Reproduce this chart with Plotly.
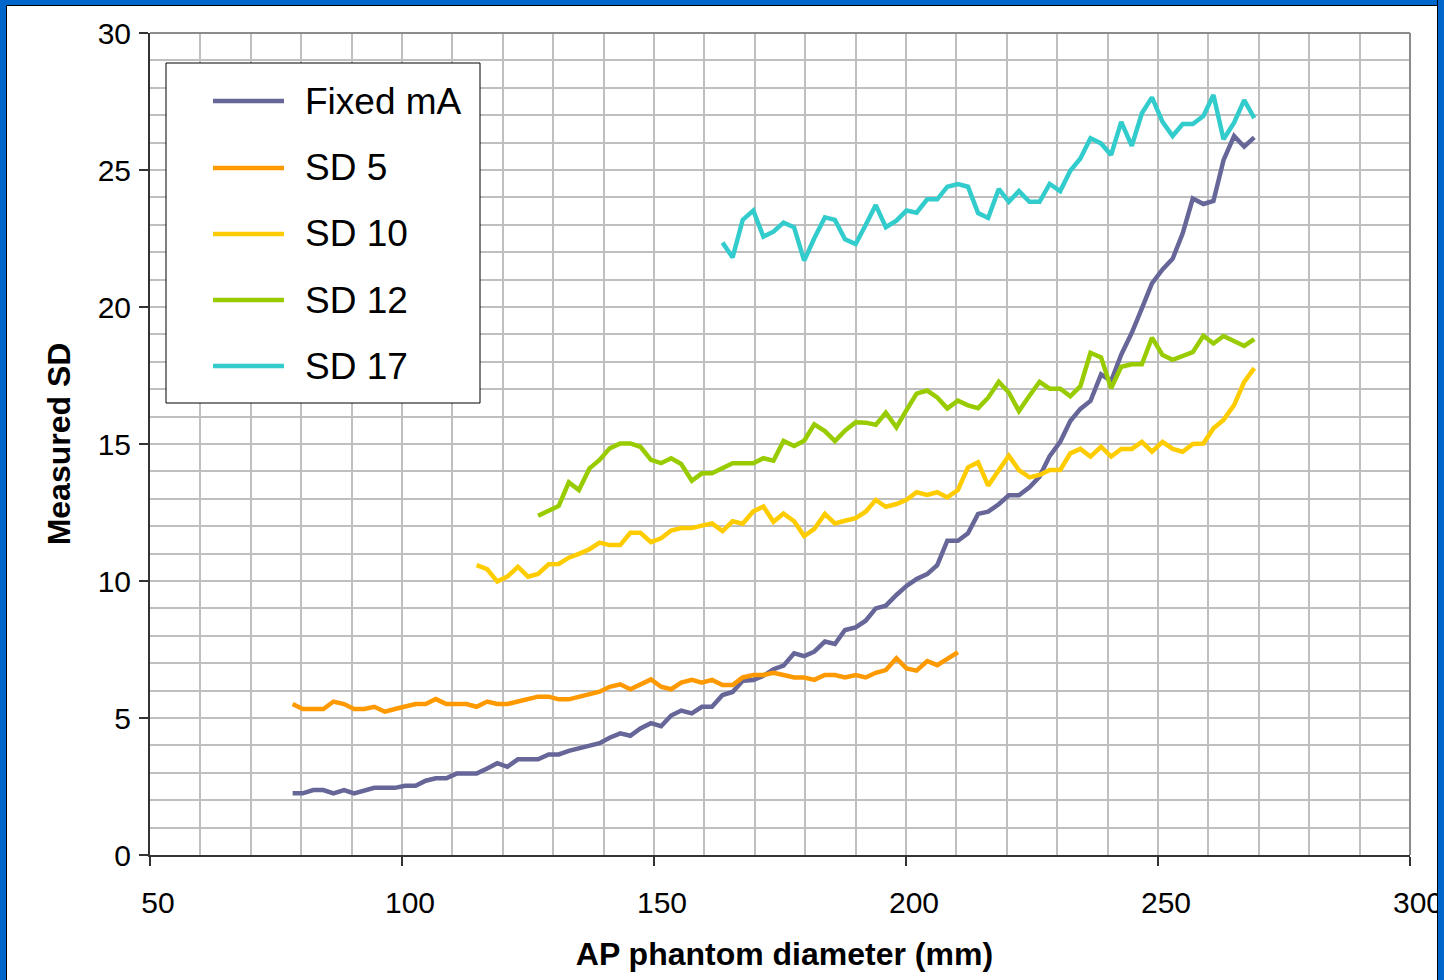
import plotly.graph_objects as go

# AP phantom diameter grid (mm)
diameter = [78.3, 80.3, 82.4, 84.4, 86.4, 88.5, 90.5, 92.5, 94.5, 96.6,
            98.6, 100.6, 102.7, 104.7, 106.7, 108.8, 110.8, 112.8, 114.8, 116.9,
            118.9, 120.9, 123.0, 125.0, 127.0, 129.1, 131.1, 133.1, 135.1, 137.2,
            139.2, 141.2, 143.3, 145.3, 147.3, 149.4, 151.4, 153.4, 155.4, 157.5,
            159.5, 161.5, 163.6, 165.6, 167.6, 169.7, 171.7, 173.7, 175.7, 177.8,
            179.8, 181.8, 183.9, 185.9, 187.9, 190.0, 192.0, 194.0, 196.0, 198.1,
            200.1, 202.1, 204.2, 206.2, 208.2, 210.3, 212.3, 214.3, 216.3, 218.4,
            220.4, 222.4, 224.5, 226.5, 228.5, 230.6, 232.6, 234.6, 236.6, 238.7,
            240.7, 242.7, 244.8, 246.8, 248.8, 250.9, 252.9, 254.9, 256.9, 259.0,
            261.0, 263.0, 265.1, 267.1, 269.1]

fixed_ma = [2.25, 2.25, 2.37, 2.37, 2.25, 2.37, 2.25, 2.37, 2.45, 2.45,
            2.45, 2.53, 2.53, 2.71, 2.80, 2.80, 2.97, 2.97, 2.97, 3.16,
            3.35, 3.22, 3.49, 3.49, 3.49, 3.67, 3.67, 3.80, 3.88, 3.98,
            4.08, 4.28, 4.44, 4.35, 4.62, 4.81, 4.70, 5.09, 5.27, 5.17,
            5.41, 5.41, 5.84, 5.95, 6.36, 6.39, 6.54, 6.78, 6.91, 7.36,
            7.26, 7.42, 7.79, 7.70, 8.21, 8.31, 8.55, 9.00, 9.10, 9.49,
            9.82, 10.07, 10.25, 10.58, 11.47, 11.47, 11.74, 12.45, 12.53, 12.80,
            13.13, 13.13, 13.42, 13.81, 14.56, 15.08, 15.84, 16.28, 16.57, 17.54,
            17.30, 18.26, 19.06, 19.95, 20.86, 21.37, 21.76, 22.69, 23.96, 23.76,
            23.87, 25.36, 26.24, 25.85, 26.19]

sd5 = [5.51, 5.33, 5.33, 5.33, 5.60, 5.51, 5.33, 5.33, 5.41, 5.23,
       5.33, 5.41, 5.51, 5.51, 5.69, 5.51, 5.51, 5.51, 5.41, 5.60,
       5.51, 5.51, 5.60, 5.69, 5.78, 5.78, 5.68, 5.68, 5.78, 5.86,
       5.96, 6.14, 6.23, 6.05, 6.23, 6.41, 6.14, 6.05, 6.29, 6.39,
       6.29, 6.39, 6.20, 6.20, 6.48, 6.57, 6.57, 6.65, 6.57, 6.48,
       6.48, 6.39, 6.57, 6.57, 6.48, 6.57, 6.48, 6.65, 6.75, 7.18,
       6.81, 6.73, 7.08, 6.93, 7.16, 7.40]

sd10 = [10.58, 10.43, 9.98, 10.16, 10.52, 10.16, 10.26, 10.61, 10.62, 10.85,
        10.99, 11.16, 11.40, 11.31, 11.31, 11.76, 11.76, 11.42, 11.56, 11.84,
        11.93, 11.93, 12.02, 12.10, 11.82, 12.18, 12.09, 12.54, 12.72, 12.16,
        12.46, 12.18, 11.64, 11.90, 12.45, 12.10, 12.20, 12.29, 12.53, 12.96,
        12.71, 12.81, 12.96, 13.24, 13.14, 13.24, 13.05, 13.32, 14.15, 14.33,
        13.48, 14.05, 14.57, 14.05, 13.78, 13.87, 14.05, 14.05, 14.66, 14.82,
        14.54, 14.90, 14.54, 14.82, 14.82, 15.08, 14.72, 15.08, 14.82, 14.72,
        15.00, 15.02, 15.57, 15.88, 16.42, 17.27, 17.77]

sd12 = [12.38, 12.57, 12.74, 13.60, 13.32, 14.11, 14.42, 14.84, 15.02, 15.02,
        14.90, 14.42, 14.30, 14.48, 14.27, 13.66, 13.93, 13.93, 14.11, 14.30,
        14.30, 14.30, 14.48, 14.39, 15.11, 14.93, 15.12, 15.72, 15.47, 15.11,
        15.49, 15.79, 15.78, 15.70, 16.14, 15.61, 16.24, 16.84, 16.95, 16.70,
        16.30, 16.58, 16.41, 16.31, 16.69, 17.27, 16.88, 16.20, 16.76, 17.27,
        17.02, 17.02, 16.74, 17.11, 18.33, 18.16, 17.03, 17.82, 17.91, 17.91,
        18.88, 18.25, 18.07, 18.19, 18.35, 18.95, 18.67, 18.94, 18.77, 18.58,
        18.83]

sd17 = [22.35, 21.81, 23.18, 23.52, 22.57, 22.75, 23.08, 22.91, 21.69, 22.51,
        23.27, 23.18, 22.47, 22.30, 22.99, 23.72, 22.91, 23.15, 23.52, 23.44,
        23.93, 23.93, 24.39, 24.49, 24.39, 23.43, 23.25, 24.31, 23.84, 24.23,
        23.84, 23.84, 24.49, 24.23, 24.97, 25.42, 26.16, 25.97, 25.55, 26.76,
        25.88, 27.07, 27.65, 26.76, 26.24, 26.68, 26.68, 26.97, 27.74, 26.12,
        26.73, 27.55, 26.89]

series_names = ["Fixed mA", "SD 5", "SD 10", "SD 12", "SD 17"]
series_colors = ["#666699", "#FF9900", "#FFCC00", "#99CC00", "#33CCCC"]
series_x = [diameter,
            diameter[:len(sd5)],
            diameter[len(diameter) - len(sd10):],
            diameter[len(diameter) - len(sd12):],
            diameter[len(diameter) - len(sd17):]]
series_y = [fixed_ma, sd5, sd10, sd12, sd17]

x_ticks = [50, 100, 150, 200, 250, 300]
y_ticks = [0, 5, 10, 15, 20, 25, 30]

FONT = "Liberation Sans, Arial, Helvetica, sans-serif"
GRID = "#BFBFBF"

W, H = 1444, 980
L, R, T, B = 150, 34, 33, 125
PW, PH = W - L - R, H - T - B


def px_x(px):
    return (px - L) / PW


def px_y(py):
    return (H - B - py) / PH


fig = go.Figure()
for name, xs, ys, col in zip(series_names, series_x, series_y, series_colors):
    fig.add_trace(go.Scatter(x=xs, y=ys, mode="lines", name=name,
                             line=dict(color=col, width=4.5), showlegend=False))

shapes = []
# white page inside the blue frame
shapes.append(dict(type="rect", xref="paper", yref="paper", layer="below",
                   x0=px_x(6.5), x1=px_x(1437.5), y0=px_y(1000), y1=px_y(5.5),
                   fillcolor="white", line=dict(color="black", width=1)))
# right blue strip (covers part of the last tick label)
shapes.append(dict(type="rect", xref="paper", yref="paper", layer="above",
                   x0=px_x(1437.5), x1=px_x(1460), y0=px_y(1000), y1=px_y(-10),
                   fillcolor="#0066CC", line=dict(color="black", width=1)))
# top and right plot border
shapes.append(dict(type="line", xref="paper", yref="paper", layer="above",
                   x0=0, x1=1, y0=1, y1=1, line=dict(color="#8C8C8C", width=2)))
shapes.append(dict(type="line", xref="paper", yref="paper", layer="above",
                   x0=1, x1=1, y0=0, y1=1, line=dict(color="#8C8C8C", width=2)))

# legend box
shapes.append(dict(type="rect", xref="paper", yref="paper", layer="above",
                   x0=px_x(166), x1=px_x(480), y0=px_y(403), y1=px_y(63),
                   fillcolor="white", line=dict(color="black", width=1)))
annotations = []
row_y = [101, 168, 234, 300, 366]
for name, col, ry in zip(series_names, series_colors, row_y):
    shapes.append(dict(type="line", xref="paper", yref="paper", layer="above",
                       x0=px_x(213), x1=px_x(284), y0=px_y(ry), y1=px_y(ry),
                       line=dict(color=col, width=4.5)))
    annotations.append(dict(xref="paper", yref="paper", x=px_x(303), y=px_y(ry),
                            xanchor="left", yanchor="middle", showarrow=False,
                            text=name, font=dict(family=FONT, size=37, color="black")))

fig.update_layout(
    width=W, height=H,
    margin=dict(l=L, r=R, t=T, b=B, autoexpand=False),
    paper_bgcolor="#0066CC",
    plot_bgcolor="white",
    font=dict(family=FONT, color="black"),
    showlegend=False,
    shapes=shapes,
    annotations=annotations,
)

fig.update_xaxes(
    range=[50, 300], tickmode="array", tickvals=x_ticks,
    ticks="outside", ticklen=9, tickwidth=1.5, tickcolor="#333333",
    showline=True, linecolor="#333333", linewidth=2, zeroline=False,
    showgrid=True, gridcolor=GRID, gridwidth=1.5,
    minor=dict(dtick=10, tick0=50, showgrid=True, gridcolor=GRID, gridwidth=1.5, ticks=""),
    tickfont=dict(family=FONT, size=30, color="black"),
    ticklabelshift=8, ticklabelstandoff=11,
    title=dict(text="<b>&nbsp;AP phantom diameter (mm)</b>",
               font=dict(family=FONT, size=32, color="black"), standoff=25),
)
fig.update_yaxes(
    range=[0, 30], tickmode="array", tickvals=y_ticks,
    ticks="outside", ticklen=9, tickwidth=1.5, tickcolor="#333333",
    showline=True, linecolor="#333333", linewidth=2, zeroline=False,
    showgrid=True, gridcolor=GRID, gridwidth=1.5,
    minor=dict(dtick=1, tick0=0, showgrid=True, gridcolor=GRID, gridwidth=1.5, ticks=""),
    tickfont=dict(family=FONT, size=30, color="black"),
    ticklabelstandoff=2,
    title=dict(text="<b>Measured SD</b>",
               font=dict(family=FONT, size=32, color="black"), standoff=17),
)

fig.write_html("out.html")
